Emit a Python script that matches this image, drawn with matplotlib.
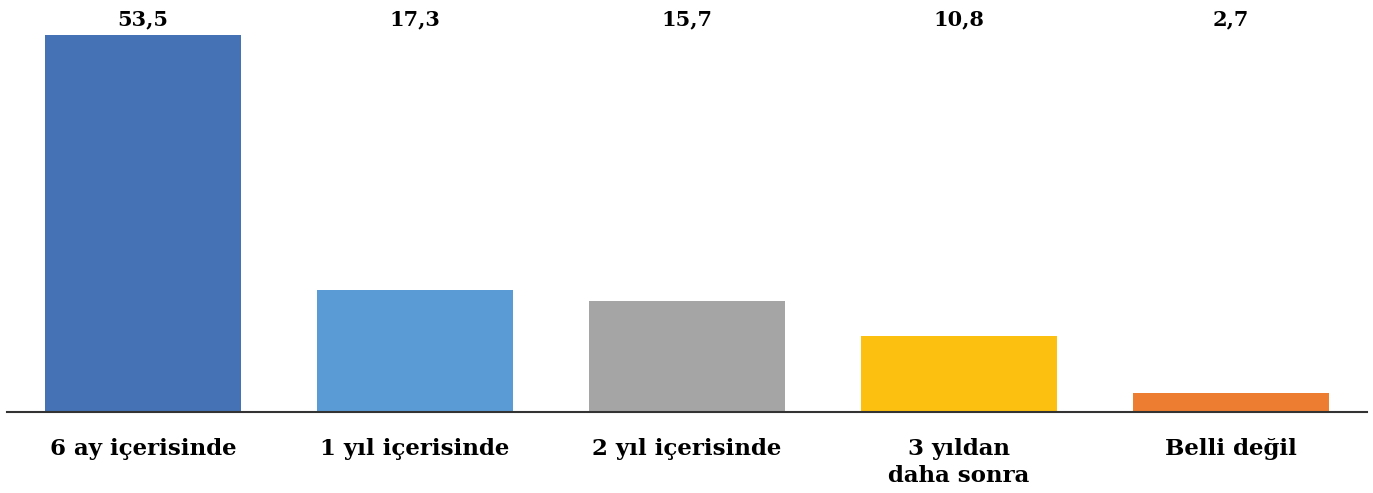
import matplotlib
matplotlib.use("Agg")
import matplotlib.pyplot as plt

categories = ["6 ay içerisinde", "1 yıl içerisinde", "2 yıl içerisinde", "3 yıldan\ndaha sonra", "Belli değil"]
values = [53.5, 17.3, 15.7, 10.8, 2.7]
value_labels = ["53,5", "17,3", "15,7", "10,8", "2,7"]
colors = ["#4472B4", "#5B9BD5", "#A5A5A5", "#FCC010", "#ED7D31"]

fig = plt.figure(figsize=(13.73, 4.93), dpi=100)
ax = fig.add_axes([7/1373, 81/493, 1360/1373, 412/493])
x = list(range(len(categories)))
ax.bar(x, values, width=0.724, color=colors)
ax.set_xlim(-0.5, len(categories) - 0.5)
ax.set_ylim(0, 58.5)

font = dict(family="DejaVu Serif", weight="bold")
for xi, lab in zip(x, value_labels):
    ax.text(xi, 55.7, lab, ha="center", va="center", fontsize=15, color="#000000", **font)

ax.set_xticks(x)
ax.set_xticklabels(categories, fontsize=16.5, color="#000000", linespacing=1.3, **font)
ax.tick_params(axis="x", length=0, pad=19)
ax.set_yticks([])
for s in ["top", "left", "right"]:
    ax.spines[s].set_visible(False)
ax.spines["bottom"].set_color("#333333")
ax.spines["bottom"].set_linewidth(1.5)

fig.savefig("out.png", dpi=100)
